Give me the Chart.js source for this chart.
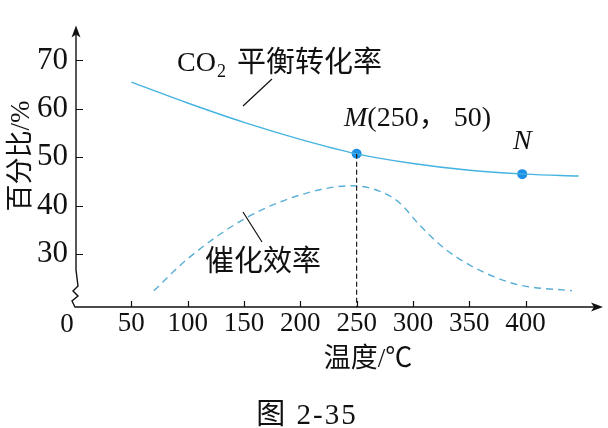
<!DOCTYPE html>
<html>
<head>
<meta charset="utf-8">
<script src="https://cdn.jsdelivr.net/npm/chart.js@4.4.1/dist/chart.umd.min.js"></script>
<style>
html,body{margin:0;padding:0;background:#fff;}
#c{display:block;}
</style>
</head>
<body>
<canvas id="c" width="608" height="428"></canvas>
<script>
// ---- data ----
const co2Temps  = [50, 100, 150, 200, 250, 300, 350, 400, 447];
const co2Values = [65.5, 61.2, 57.2, 53.7, 50.7, 48.7, 47.3, 46.5, 46.1];
const catTemps  = [70, 100, 150, 200, 246, 270, 288, 305, 323, 341, 364, 394, 441];
const catValues = [22.4, 29.0, 37.2, 42.2, 44.1, 43.0, 40.6, 36.2, 32.1, 29.0, 26.1, 23.6, 22.4];
const markTemps  = [250, 397];
const markValues = [50.7, 46.5];
const markNames  = ['M', 'N'];
const xTickValues = [50, 100, 150, 200, 250, 300, 350, 400];
const yTickValues = [30, 40, 50, 60, 70];
const xMin = 0, xMax = 468.7, yMin = 19.04, yMax = 77.2;

const SERIF = "'Liberation Serif', 'Noto Sans CJK SC', serif";
const CJK = "'Noto Sans CJK SC', 'Liberation Serif', sans-serif";
const INK = '#111';

const zip = (xs, ys) => xs.map((x, i) => ({x: x, y: ys[i]}));

const decor = {
  id: 'decor',
  afterDatasetsDraw(chart) {
    const ctx = chart.ctx;
    const xs = chart.scales.x, ys = chart.scales.y;
    const L = chart.chartArea.left, B = chart.chartArea.bottom, R = chart.chartArea.right, T = chart.chartArea.top;
    ctx.save();
    ctx.strokeStyle = INK; ctx.fillStyle = INK; ctx.lineWidth = 1.4;
    // y axis with break
    ctx.beginPath();
    ctx.moveTo(L + 1, T + 8);
    ctx.lineTo(L + 1, B - 37);
    ctx.lineTo(L + 3, B - 21);
    ctx.lineTo(L - 2, B - 16);
    ctx.lineTo(L + 3, B - 11);
    ctx.lineTo(L - 3, B - 6);
    ctx.lineTo(L + 0, B);
    ctx.lineTo(R - 8, B);
    ctx.stroke();
    // arrows
    ctx.beginPath();
    ctx.moveTo(L + 1, T);
    ctx.lineTo(L - 3.5, T + 12);
    ctx.lineTo(L + 1, T + 9);
    ctx.lineTo(L + 5.5, T + 12);
    ctx.closePath(); ctx.fill();
    ctx.beginPath();
    ctx.moveTo(R, B);
    ctx.lineTo(R - 12, B - 4.5);
    ctx.lineTo(R - 9, B);
    ctx.lineTo(R - 12, B + 4.5);
    ctx.closePath(); ctx.fill();
    // ticks
    ctx.lineWidth = 1.2;
    ctx.beginPath();
    yTickValues.forEach(v => { const p = Math.round(ys.getPixelForValue(v)) + 0.5; ctx.moveTo(L + 1, p); ctx.lineTo(L + 8, p); });
    xTickValues.forEach(v => { const p = Math.round(xs.getPixelForValue(v)) + 0.5; ctx.moveTo(p, B); ctx.lineTo(p, B - 6); });
    ctx.stroke();
    // origin label
    ctx.font = "27px " + SERIF;
    ctx.textAlign = 'center'; ctx.textBaseline = 'alphabetic';
    ctx.fillText('0', L - 8, B + 25);

    // leader lines
    ctx.lineWidth = 1.2;
    ctx.beginPath();
    ctx.moveTo(272, 79); ctx.lineTo(243, 106);
    ctx.moveTo(243, 212); ctx.lineTo(262, 242);
    ctx.stroke();

    // CO2 label
    ctx.textAlign = 'left';
    ctx.font = "28px " + SERIF;
    ctx.fillText('CO', 177, 71);
    const wCO = ctx.measureText('CO').width;
    ctx.font = "18px " + SERIF;
    ctx.fillText('2', 177 + wCO + 1, 77);
    ctx.font = "29px " + CJK;
    ctx.fillText('平衡转化率', 237, 72);
    // catalyst label
    ctx.fillText('催化效率', 205, 271);

    // M / N labels
    ctx.font = "italic 28px " + SERIF;
    ctx.fillText(markNames[0], 344, 126);
    const wM = ctx.measureText(markNames[0]).width;
    ctx.font = "28px " + SERIF;
    ctx.fillText('(' + markTemps[0] + '\uFF0C 50)', 344 + wM, 126);
    ctx.font = "italic 28px " + SERIF;
    ctx.fillText(markNames[1], 513, 149);

    // axis titles
    ctx.font = "27px " + SERIF;
    ctx.textAlign = 'center';
    ctx.fillText('温度/℃', 368, 367);
    ctx.save();
    ctx.translate(29, 156);
    ctx.rotate(-Math.PI / 2);
    ctx.fillText('百分比/%', 0, 0);
    ctx.restore();
    // caption
    ctx.font = "29px " + SERIF;
    ctx.letterSpacing = '2px';
    ctx.fillText('图 2-35', 307, 424);
    ctx.restore();
  }
};

new Chart(document.getElementById('c'), {
  type: 'line',
  data: {
    datasets: [
      { data: zip([markTemps[0], markTemps[0]], [markValues[0], yMin]), borderColor: '#222', borderWidth: 1.2,
        borderDash: [5, 3], pointRadius: 0, fill: false },
      { data: zip(co2Temps, co2Values), borderColor: '#45b3e0', borderWidth: 1.4, pointRadius: 0,
        cubicInterpolationMode: 'monotone', fill: false },
      { data: zip(catTemps, catValues), borderColor: '#5aaed6', borderWidth: 1.4, borderDash: [7, 5],
        pointRadius: 0, cubicInterpolationMode: 'monotone', fill: false },
      { data: zip(markTemps, markValues), showLine: false, pointRadius: 5, pointBackgroundColor: '#1e8fe6',
        pointBorderColor: '#1e8fe6', pointBorderWidth: 0 }
    ]
  },
  options: {
    responsive: false, animation: false, devicePixelRatio: 1,
    layout: { padding: { left: 0, right: 3, top: 0, bottom: 0 } },
    plugins: { legend: { display: false }, tooltip: { enabled: false } },
    scales: {
      x: {
        type: 'linear', min: xMin, max: xMax,
        grid: { display: false, drawTicks: false }, border: { display: false },
        afterBuildTicks: s => { s.ticks = xTickValues.map(v => ({ value: v })); },
        afterFit: s => { s.height = 121; },
        ticks: { padding: 1, color: INK, font: { family: SERIF, size: 27 }, maxRotation: 0, autoSkip: false }
      },
      y: {
        type: 'linear', min: yMin, max: yMax,
        grid: { display: false, drawTicks: false }, border: { display: false },
        afterBuildTicks: s => { s.ticks = yTickValues.map(v => ({ value: v })); },
        afterFit: s => { s.width = 75; },
        ticks: { padding: 7, color: INK, font: { family: SERIF, size: 31 }, autoSkip: false }
      }
    }
  },
  plugins: [decor]
});
</script>
</body>
</html>
